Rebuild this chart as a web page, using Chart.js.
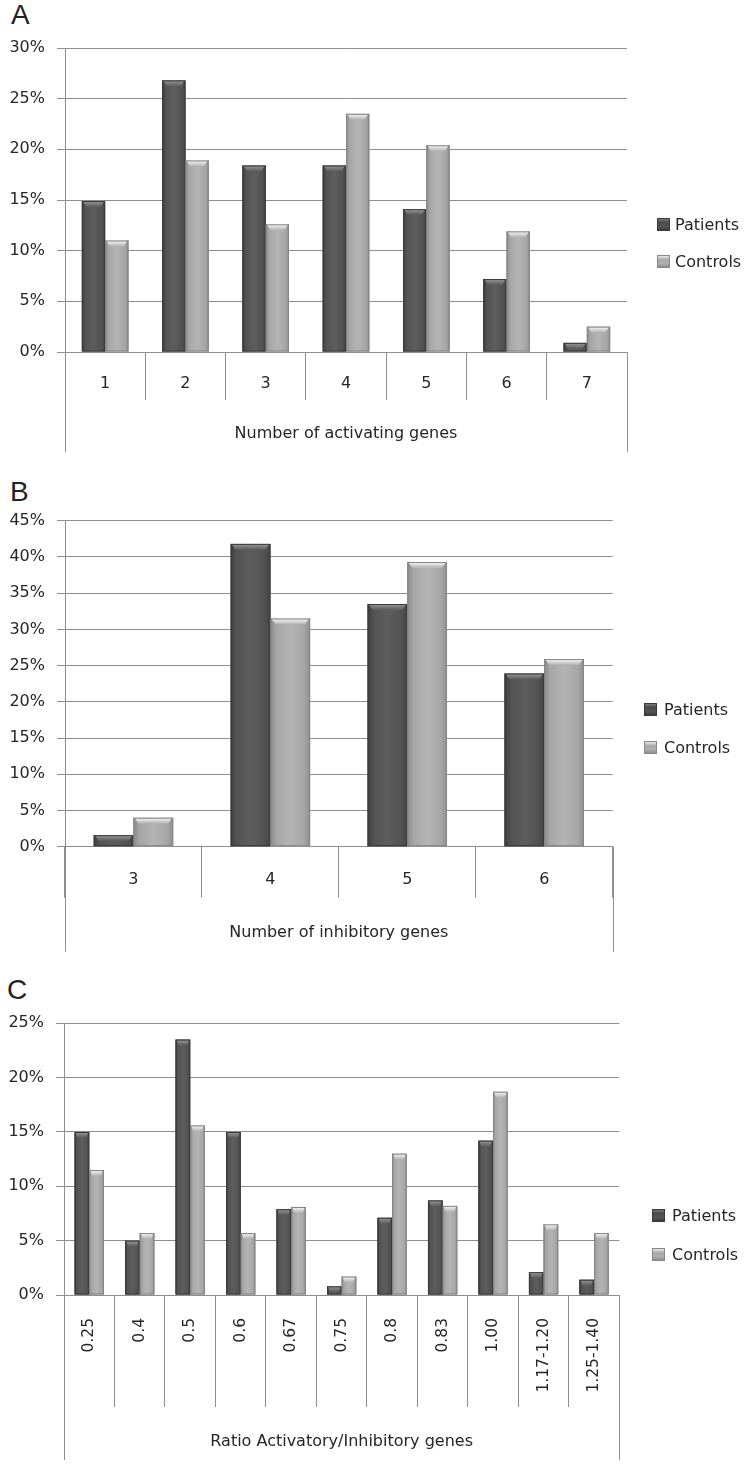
<!DOCTYPE html>
<html>
<head>
<meta charset="utf-8">
<script src="https://cdn.jsdelivr.net/npm/chart.js@4.4.1/dist/chart.umd.min.js"></script>
<style>
  html, body { margin: 0; padding: 0; background: #ffffff; }
  body { width: 749px; height: 1466px; position: relative; overflow: hidden; font-family: "DejaVu Sans", sans-serif; }
  .panel { position: absolute; left: 0; width: 749px; }
  .panel canvas { display: block; }
  .letter { position: absolute; font-family: "Liberation Sans", Arial, sans-serif; font-size: 28px; line-height: 28px; color: #222; }
  .leg { position: absolute; font-size: 16px; line-height: 20px; color: #262626; white-space: nowrap; }
  .sw { position: absolute; width: 13px; height: 13px; box-sizing: border-box; }
  .sw.p { background: linear-gradient(#7a7a7a, #4a4a4a 30%, #555 70%, #3c3c3c); border: 1px solid #3a3a3a; }
  .sw.c { background: linear-gradient(#e8e8e8, #a9a9a9 35%, #b0b0b0 70%, #8c8c8c); border: 1px solid #888; }
</style>
</head>
<body>
<div class="letter" style="left:11px; top:1px;">A</div>
<div class="letter" style="left:10px; top:478px;">B</div>
<div class="letter" style="left:7px; top:976px;">C</div>

<div class="panel" style="top:0px; height:470px;"><canvas id="chartA" width="749" height="470"></canvas></div>
<div class="panel" style="top:470px; height:490px;"><canvas id="chartB" width="749" height="490"></canvas></div>
<div class="panel" style="top:960px; height:506px;"><canvas id="chartC" width="749" height="506"></canvas></div>

<div class="sw p" style="left:657px; top:218px;"></div><div class="leg" style="left:675px; top:215px;">Patients</div>
<div class="sw c" style="left:657px; top:255px;"></div><div class="leg" style="left:675px; top:252px;">Controls</div>

<div class="sw p" style="left:644px; top:703px;"></div><div class="leg" style="left:664px; top:700px;">Patients</div>
<div class="sw c" style="left:644px; top:741px;"></div><div class="leg" style="left:664px; top:738px;">Controls</div>

<div class="sw p" style="left:652px; top:1209px;"></div><div class="leg" style="left:672px; top:1206px;">Patients</div>
<div class="sw c" style="left:652px; top:1248px;"></div><div class="leg" style="left:672px; top:1245px;">Controls</div>

<script>
// ---------- DATA ----------
const seriesNames = ['Patients', 'Controls'];

const categoriesA = ['1', '2', '3', '4', '5', '6', '7'];
const patientsA   = [14.9, 26.8, 18.4, 18.4, 14.1, 7.2, 0.9];
const controlsA   = [11.0, 18.9, 12.6, 23.5, 20.4, 11.9, 2.5];
const titleA      = 'Number of activating genes';
const yMaxA       = 30;

const categoriesB = ['3', '4', '5', '6'];
const patientsB   = [1.6, 41.8, 33.5, 23.9];
const controlsB   = [4.0, 31.5, 39.3, 25.9];
const titleB      = 'Number of inhibitory genes';
const yMaxB       = 45;

const categoriesC = ['0.25', '0.4', '0.5', '0.6', '0.67', '0.75', '0.8', '0.83', '1.00', '1.17-1.20', '1.25-1.40'];
const patientsC   = [15.0, 5.0, 23.5, 15.0, 7.9, 0.8, 7.1, 8.7, 14.2, 2.1, 1.4];
const controlsC   = [11.5, 5.7, 15.6, 5.7, 8.1, 1.7, 13.0, 8.2, 18.7, 6.5, 5.7];
const titleC      = 'Ratio Activatory/Inhibitory genes';
const yMaxC       = 25;

const yStep = 5;

// ---------- STYLE ----------
const gridColor = '#8e8e8e';
const textColor = '#262626';
const FONT = '"DejaVu Sans", sans-serif';
const palettes = [
  { edge: '#3d3d3d', body: '#525252', mid: '#5e5e5e', edge2: '#444444', capTop: '#9a9a9a', capBot: '#5a5a5a', line: '#3a3a3a' },
  { edge: '#8a8a8a', body: '#a6a6a6', mid: '#b4b4b4', edge2: '#8e8e8e', capTop: '#fbfbfb', capBot: '#b0b0b0', line: '#858585' }
];

const bevelPlugin = {
  id: 'bevel',
  afterDatasetsDraw(chart) {
    const ctx = chart.ctx;
    ctx.save();
    chart.data.datasets.forEach((ds, di) => {
      const meta = chart.getDatasetMeta(di);
      const pal = palettes[di];
      meta.data.forEach(el => {
        const p = el.getProps(['x', 'y', 'base', 'width'], true);
        const l = p.x - p.width / 2, r = p.x + p.width / 2;
        const t = Math.min(p.y, p.base), b = Math.max(p.y, p.base);
        const h = b - t;
        if (h <= 0) return;
        const g = ctx.createLinearGradient(l, 0, r, 0);
        g.addColorStop(0, pal.edge);
        g.addColorStop(0.15, pal.body);
        g.addColorStop(0.5, pal.mid);
        g.addColorStop(0.85, pal.body);
        g.addColorStop(1, pal.edge2);
        ctx.fillStyle = g;
        ctx.fillRect(l, t, p.width, h);
        const capH = Math.min(6, h * 0.7);
        const ins = Math.min(p.width * 0.2, 5);
        ctx.beginPath();
        ctx.moveTo(l + 1, t);
        ctx.lineTo(r - 1, t);
        ctx.lineTo(r - ins, t + capH);
        ctx.lineTo(l + ins, t + capH);
        ctx.closePath();
        const cg = ctx.createLinearGradient(0, t, 0, t + capH);
        cg.addColorStop(0, pal.capTop);
        cg.addColorStop(1, pal.capBot);
        ctx.fillStyle = cg;
        ctx.fill();
        ctx.strokeStyle = pal.line;
        ctx.lineWidth = 1;
        ctx.strokeRect(l + 0.5, t + 0.5, p.width - 1, h - 1);
      });
    });
    ctx.restore();
  }
};

const frameLines = {
  id: 'frameLines',
  afterDraw(chart) {
    const ctx = chart.ctx;
    const xs = chart.scales.x;
    const ca = chart.chartArea;
    ctx.save();
    ctx.strokeStyle = gridColor;
    ctx.lineWidth = 1;
    [ca.left, ca.right].forEach(px => {
      const xx = Math.round(px) + 0.5;
      ctx.beginPath();
      ctx.moveTo(xx, ca.bottom);
      ctx.lineTo(xx, xs.bottom);
      ctx.stroke();
    });
    ctx.restore();
  }
};

function makeChart(id, cats, pats, ctrls, title, yMax, lay) {
  new Chart(document.getElementById(id), {
    type: 'bar',
    data: {
      labels: cats,
      datasets: [
        { label: seriesNames[0], data: pats, backgroundColor: palettes[0].body, borderWidth: 0 },
        { label: seriesNames[1], data: ctrls, backgroundColor: palettes[1].body, borderWidth: 0 }
      ]
    },
    options: {
      responsive: false,
      animation: false,
      events: [],
      datasets: { bar: { barPercentage: 1.0, categoryPercentage: 0.58 } },
      layout: { padding: { top: lay.top, left: 0, right: lay.right, bottom: lay.bottom } },
      plugins: { legend: { display: false }, tooltip: { enabled: false }, title: { display: false } },
      scales: {
        x: {
          offset: true,
          grid: { offset: true, drawOnChartArea: false, drawTicks: true, tickLength: lay.tick, color: gridColor },
          border: { display: true, color: gridColor },
          ticks: {
            autoSkip: false,
            maxRotation: lay.rot, minRotation: lay.rot,
            padding: lay.labelPad,
            color: textColor,
            font: { family: FONT, size: lay.labelSize }
          },
          title: { display: true, text: title, color: textColor, font: { family: FONT, size: 16 }, padding: { top: 0, bottom: lay.titlePad } },
          afterFit(scale) { scale.height = lay.xh; }
        },
        y: {
          min: 0, max: yMax,
          grid: { color: gridColor, tickLength: 8, drawTicks: true },
          border: { display: true, color: gridColor },
          ticks: {
            stepSize: yStep,
            padding: 12,
            color: textColor,
            font: { family: FONT, size: 16 },
            callback: v => v + '%'
          },
          afterFit(scale) { scale.width = lay.yw; }
        }
      }
    },
    plugins: [bevelPlugin, frameLines]
  });
}

makeChart('chartA', categoriesA, patientsA, controlsA, titleA, yMaxA,
  { top: 48, right: 122, bottom: 18, xh: 100, tick: 48, labelPad: -26, rot: 0, labelSize: 16, titlePad: 9, yw: 65 });
makeChart('chartB', categoriesB, patientsB, controlsB, titleB, yMaxB,
  { top: 50.7, right: 136.3, bottom: 8.3, xh: 105, tick: 51, labelPad: -27, rot: 0, labelSize: 16, titlePad: 9, yw: 65 });
makeChart('chartC', categoriesC, patientsC, controlsC, titleC, yMaxC,
  { top: 63.3, right: 129.7, bottom: 6, xh: 165, tick: 112, labelPad: -89, rot: 90, labelSize: 15.5, titlePad: 9, yw: 64 });
</script>
</body>
</html>
